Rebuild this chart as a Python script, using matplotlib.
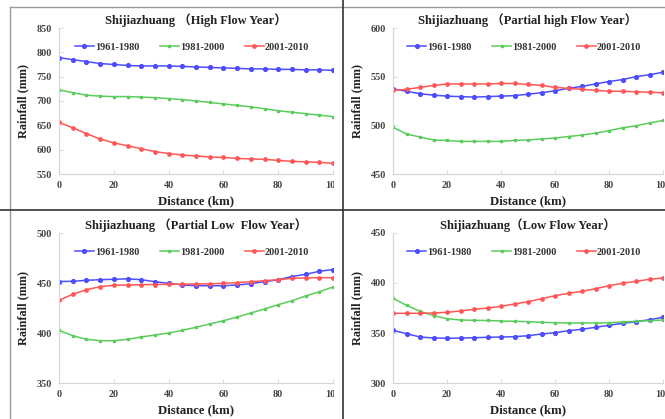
import matplotlib
matplotlib.use("Agg")
import matplotlib.pyplot as plt
from matplotlib.patches import Rectangle
from matplotlib.lines import Line2D

distance = [0, 5, 10, 15, 20, 25, 30, 35, 40, 45, 50, 55, 60, 65, 70, 75, 80, 85, 90, 95, 100]
series_names = ["1961-1980", "1981-2000", "2001-2010"]

high_1961 = [789, 785, 781, 777, 775, 773, 772, 772, 772, 771, 770, 769, 768, 767, 766, 766, 765, 765, 764, 764, 763]
high_1981 = [723, 717, 712, 710, 709, 709, 708, 707, 705, 703, 700, 697, 694, 691, 688, 684, 680, 677, 674, 671, 668]
high_2001 = [656, 645, 633, 622, 614, 608, 602, 596, 592, 589, 587, 585, 584, 582, 581, 580, 578, 576, 575, 574, 572]

phigh_1961 = [537.5, 535, 532.5, 531, 530, 529.5, 529, 529.5, 530, 530.5, 532, 533.5, 535.5, 538, 540, 542.5, 545, 547, 550, 552, 554.5]
phigh_1981 = [498, 491, 488, 485, 484.5, 483.5, 483.5, 483.5, 483.5, 484.5, 485, 486, 487, 488.5, 490, 492, 494.5, 497.5, 499.5, 502.5, 505]
phigh_2001 = [536, 537, 539, 541, 542.5, 542.5, 542.5, 542.5, 543, 543, 542, 541, 539, 538, 537, 536, 535, 535, 534.5, 534, 533.5]

plow_1961 = [451.5, 451.7, 452.7, 453.3, 453.7, 454.2, 453.3, 451.3, 449.7, 448, 447.3, 447.3, 447.3, 448, 449.3, 451.3, 453.3, 456.5, 458.7, 461.7, 463.5]
plow_1981 = [402.7, 397.3, 393.7, 392.3, 392.3, 393.7, 396, 398, 400, 402.7, 405.7, 409, 412.3, 416, 420, 424, 428.3, 432.3, 437, 441.3, 446]
plow_2001 = [432.7, 438.7, 443.3, 446.3, 447.7, 448, 448.3, 448.5, 448.7, 448.8, 449, 449.2, 449.7, 450.3, 451.3, 452.3, 453.3, 454.7, 455, 455.3, 455.3]

low_1961 = [352.7, 349.3, 346, 345, 344.7, 344.9, 345.3, 345.7, 346, 346.3, 347.3, 349, 350.3, 352.3, 353.7, 355.7, 357.7, 359.7, 361.3, 363.3, 365.7]
low_1981 = [384.7, 377.7, 371.7, 367.3, 364.3, 363, 362.7, 362.5, 362, 361.7, 361.3, 360.7, 360.3, 360, 360, 360, 360.3, 361, 361.7, 362.3, 363]
low_2001 = [369.7, 369.7, 369.7, 370, 370.7, 372, 373.7, 375, 376.7, 379, 381.3, 384.3, 387.3, 389.7, 391.7, 394.3, 397.3, 399.7, 401.7, 403.7, 405]

titles = ["Shijiazhuang \uff08High Flow Year\uff09",
          "Shijiazhuang \uff08Partial high Flow Year\uff09",
          "Shijiazhuang \uff08Partial Low  Flow Year\uff09",
          "Shijiazhuang\uff08Low Flow Year\uff09"]
yticks_list = [[550, 600, 650, 700, 750, 800, 850],
               [450, 500, 550, 600],
               [350, 400, 450, 500],
               [300, 350, 400, 450]]
xticks = [0, 20, 40, 60, 80, 100]
panel_data = [(high_1961, high_1981, high_2001),
              (phigh_1961, phigh_1981, phigh_2001),
              (plow_1961, plow_1981, plow_2001),
              (low_1961, low_1981, low_2001)]

colors = ["#4d4dff", "#5ccc5c", "#ff5656"]
markers = ["o", "s", "o"]
msizes = [2.7, 2.0, 2.4]

serif = ["Liberation Serif", "Noto Sans CJK SC", "DejaVu Serif"]
plt.rcParams['font.family'] = serif
plt.rcParams['font.weight'] = 'bold'

W, H = 665, 419
fig = plt.figure(figsize=(W / 100, H / 100), dpi=100)

def fx(px):
    return px / W

def fy(py):
    return 1 - py / H

boxes = [(59, 333, 28, 174), (393, 663, 28, 174), (59, 333, 233, 383), (393, 663, 233, 383)]

for i, (l, r, t, b) in enumerate(boxes):
    ax = fig.add_axes([fx(l), fy(b), fx(r) - fx(l), fy(t) - fy(b)])
    ys = panel_data[i]
    for j in range(3):
        ax.plot(distance, ys[j], color=colors[j], lw=1.1, marker=markers[j],
                ms=msizes[j], mec=colors[j], mfc=colors[j], label=series_names[j])
    yt = yticks_list[i]
    ax.set_ylim(yt[0], yt[-1])
    ax.set_xlim(0, 100)
    ax.set_yticks(yt)
    ax.set_xticks(xticks)
    for s in ["top", "right"]:
        ax.spines[s].set_visible(False)
    for s in ["left", "bottom"]:
        ax.spines[s].set_color("#d4d4d4")
        ax.spines[s].set_linewidth(0.8)
    ax.tick_params(direction="in", length=3, width=0.6, color="#d4d4d4",
                   labelsize=7.3, labelcolor="#444444", pad=5)
    for lab in ax.get_xticklabels() + ax.get_yticklabels():
        lab.set_fontweight("bold")
    ax.set_ylabel("Rainfall (mm)", fontsize=8.8, fontweight="bold", color="#222222", labelpad=5)
    ax.set_xlabel("Distance (km)", fontsize=9.2, fontweight="bold", color="#222222", labelpad=3.5)
    ax.set_title(titles[i], fontsize=9, fontweight="bold", color="#222222", pad=3)
    leg = ax.legend(loc="upper center", bbox_to_anchor=(0.485, 0.93), ncol=3, frameon=False,
                    fontsize=7.4, handlelength=1.9, columnspacing=2.0, handletextpad=0.05,
                    borderaxespad=0)
    for txt in leg.get_texts():
        txt.set_color("#333333")

# mask clipped right edge of left panels
fig.patches.append(Rectangle((fx(334), 0), fx(343) - fx(334), 1, transform=fig.transFigure,
                             facecolor="white", edgecolor="none", zorder=5))
# panel borders
fig.lines.append(Line2D([fx(10), fx(10)], [0, fy(7)], transform=fig.transFigure, color="#999999", lw=1.0, zorder=6))
fig.lines.append(Line2D([fx(10), 1], [fy(7), fy(7)], transform=fig.transFigure, color="#999999", lw=1.0, zorder=6))
fig.lines.append(Line2D([fx(343), fx(343)], [0, 1], transform=fig.transFigure, color="#333333", lw=1.2, zorder=6))
fig.lines.append(Line2D([0, 1], [fy(210), fy(210)], transform=fig.transFigure, color="#333333", lw=1.2, zorder=6))

fig.savefig("out.png", dpi=100)
